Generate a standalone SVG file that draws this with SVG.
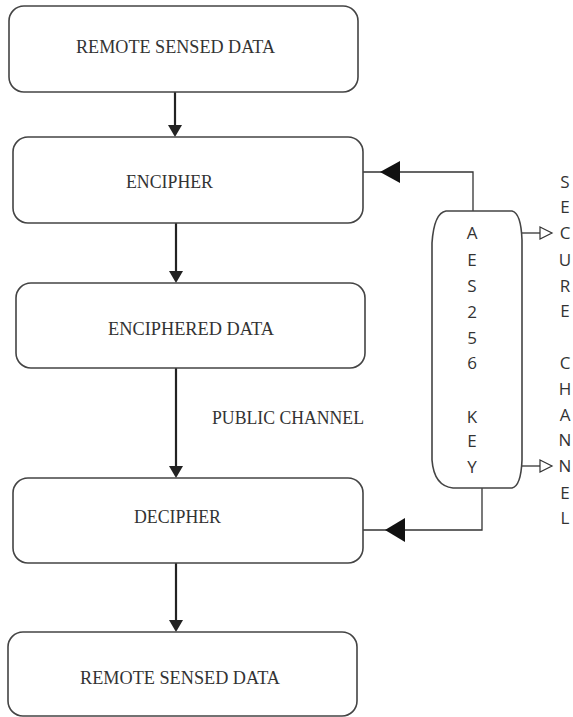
<svg xmlns="http://www.w3.org/2000/svg" width="573" height="717" viewBox="0 0 573 717">
<defs>
<style>
.box{fill:#fff;stroke:#444;stroke-width:1.6}
.lbl{font-family:"Liberation Serif","Times New Roman",serif;font-size:19px;fill:#333}
.key{font-family:"Open Sans","DejaVu Sans",sans-serif;font-size:17px;fill:#333;text-anchor:middle}
.flow{stroke:#222;stroke-width:2.2;fill:none}
.thin{stroke:#333;stroke-width:1.3;fill:none}
</style>
</defs>
<rect width="573" height="717" fill="#fff"/>
<g id="connectors">
<line class="flow" x1="175" y1="92" x2="175" y2="125"/>
<path d="M168 125 L182 125 L175 137 Z" fill="#222"/>
<line class="flow" x1="176" y1="223" x2="176" y2="271"/>
<path d="M169 271 L183 271 L176 283 Z" fill="#222"/>
<line class="flow" x1="176" y1="368" x2="176" y2="466"/>
<path d="M169 466 L183 466 L176 478 Z" fill="#222"/>
<line class="flow" x1="176" y1="563" x2="176" y2="620"/>
<path d="M169 620 L183 620 L176 632 Z" fill="#222"/>
<polyline class="thin" points="473,211 473,172 363,172"/>
<path d="M380 172 L400 161 L400 183 Z" fill="#111"/>
<polyline class="thin" points="482,488 482,530 363,530"/>
<path d="M385 530 L405 518 L405 542 Z" fill="#111"/>
<line class="thin" x1="521" y1="233" x2="540" y2="233"/>
<path d="M540 227 L552 233 L540 239 Z" fill="#fff" stroke="#333" stroke-width="1.2"/>
<line class="thin" x1="521" y1="466" x2="540" y2="466"/>
<path d="M540 460 L552 466 L540 472 Z" fill="#fff" stroke="#333" stroke-width="1.2"/>
</g>
<g id="n1">
<rect class="box" x="9" y="6" width="349" height="86" rx="15"/>
<text class="lbl" x="76" y="53" textLength="199" lengthAdjust="spacingAndGlyphs">REMOTE SENSED DATA</text>
</g>
<g id="n2">
<rect class="box" x="13" y="137" width="350" height="86" rx="15"/>
<text class="lbl" x="126" y="188" textLength="87" lengthAdjust="spacingAndGlyphs">ENCIPHER</text>
</g>
<g id="n3">
<rect class="box" x="16" y="283" width="349" height="85" rx="15"/>
<text class="lbl" x="108" y="335" textLength="166" lengthAdjust="spacingAndGlyphs">ENCIPHERED DATA</text>
</g>
<g id="public-channel">
<text class="lbl" x="212" y="424" textLength="152" lengthAdjust="spacingAndGlyphs">PUBLIC CHANNEL</text>
</g>
<g id="n4">
<rect class="box" x="13" y="478" width="350" height="85" rx="15"/>
<text class="lbl" x="134" y="523" textLength="87" lengthAdjust="spacingAndGlyphs">DECIPHER</text>
</g>
<g id="n5">
<rect class="box" x="8" y="632" width="349" height="84" rx="15"/>
<text class="lbl" x="80" y="684" textLength="200" lengthAdjust="spacingAndGlyphs">REMOTE SENSED DATA</text>
</g>
<g id="aes-key">
<path class="box" d="M446 211 L512 211 Q521 213 522 240 L522 460 Q521 486 512 488 L453 488 Q434 486 432 460 L432 243 Q434 213 446 211 Z"/>
<text class="key" x="472" y="239">A</text>
<text class="key" x="472" y="266">E</text>
<text class="key" x="472" y="292">S</text>
<text class="key" x="472" y="318">2</text>
<text class="key" x="472" y="344">5</text>
<text class="key" x="472" y="369">6</text>
<text class="key" x="472" y="423">K</text>
<text class="key" x="472" y="447">E</text>
<text class="key" x="472" y="473">Y</text>
</g>
<g id="secure-channel">
<text class="key" x="565" y="188">S</text>
<text class="key" x="565" y="213">E</text>
<text class="key" x="565" y="239">C</text>
<text class="key" x="565" y="266">U</text>
<text class="key" x="565" y="292">R</text>
<text class="key" x="565" y="317">E</text>
<text class="key" x="565" y="369">C</text>
<text class="key" x="565" y="395">H</text>
<text class="key" x="565" y="421">A</text>
<text class="key" x="565" y="446">N</text>
<text class="key" x="565" y="472">N</text>
<text class="key" x="565" y="499">E</text>
<text class="key" x="565" y="524">L</text>
</g>
</svg>
